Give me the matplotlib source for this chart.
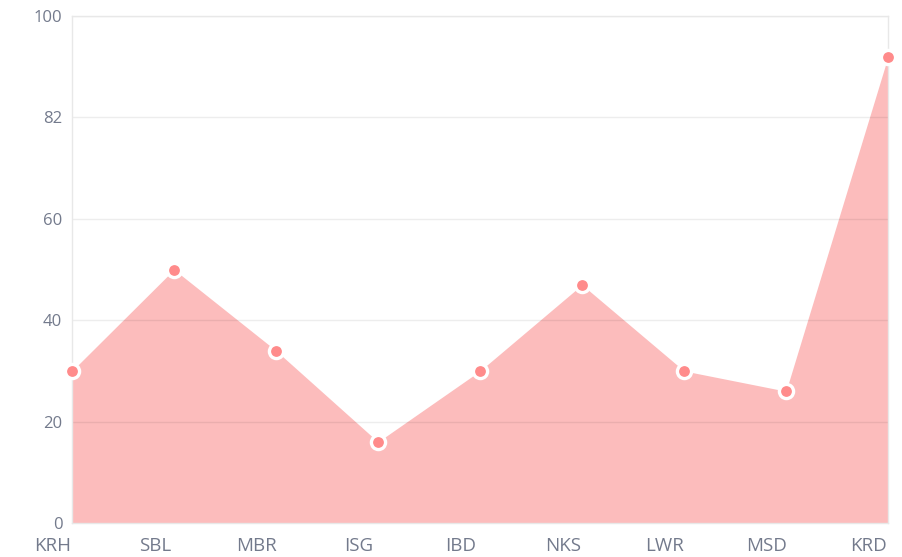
import matplotlib

matplotlib.use("Agg")
import matplotlib.pyplot as plt
from matplotlib.transforms import ScaledTranslation

categories = ["KRH", "SBL", "MBR", "ISG", "IBD", "NKS", "LWR", "MSD", "KRD"]
values = [30, 50, 34, 16, 30, 47, 30, 26, 92]
ytick_vals = [0, 20, 40, 60, 80, 100]
ytick_labels = ["0", "20", "40", "60", "82", "100"]

plt.rcParams["font.family"] = ["Open Sans", "DejaVu Sans"]
label_color = "#737a8c"
grid_color = "#e8e8e8"

fig = plt.figure(figsize=(9.03, 5.57), dpi=100)
ax = fig.add_axes([72 / 903, 34 / 557, 816 / 903, 507 / 557])

x = list(range(len(categories)))
ax.fill_between(x, values, 0, color="#fcbcbc", lw=0, zorder=1)
for v in ytick_vals[1:]:
    ax.axhline(v, color="black", alpha=0.07, lw=1, zorder=2)
ax.plot(x, values, ls="none", marker="o", ms=10.2, mfc="#ff8b8b",
        mec="white", mew=2.4, zorder=3, clip_on=False)

ax.set_xlim(0, len(categories) - 1)
ax.set_ylim(0, 100)
ax.set_xticks(x)
ax.set_xticklabels(categories)
ax.set_yticks(ytick_vals)
ax.set_yticklabels(ytick_labels)
ax.tick_params(axis="x", length=0, pad=10, labelsize=13.5, labelcolor=label_color)
ax.tick_params(axis="y", length=0, pad=7, labelsize=12, labelcolor=label_color)

# category labels sit a little left of their points
shift = ScaledTranslation(-19 / 100, 0, fig.dpi_scale_trans)
for lab in ax.get_xticklabels():
    lab.set_transform(lab.get_transform() + shift)

for side in ("left", "top", "right", "bottom"):
    ax.spines[side].set_color(grid_color)
    ax.spines[side].set_linewidth(1)

fig.savefig("out.png", dpi=100)
